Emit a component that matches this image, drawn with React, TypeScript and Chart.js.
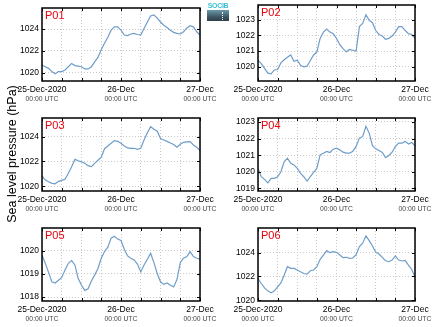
import React, { useEffect, useRef } from 'react';
import { Chart, registerables } from 'chart.js';
Chart.register(...registerables);

// ---- data ----
const xGridHours = [0, 6, 12, 18, 24, 30, 36, 42, 48];
const xLabelHours = [0, 24, 48];
const xDateLabels = ['25-Dec-2020', '26-Dec', '27-Dec'];
const xTimeLabels = ['00:00 UTC', '00:00 UTC', '00:00 UTC'];
const yTitle = 'Sea level pressure (hPa)';
const logoText = 'SOCIB';

const p01 = [1020.7, 1020.55, 1020.4, 1020.1, 1019.9, 1020.1, 1020.1, 1020.25, 1020.55, 1020.85, 1020.65, 1020.6, 1020.55, 1020.35, 1020.35, 1020.55, 1021.0, 1021.4, 1022.1, 1022.7, 1023.25, 1023.9, 1024.2, 1024.2, 1023.9, 1023.45, 1023.4, 1023.55, 1023.6, 1023.5, 1023.45, 1024.05, 1024.65, 1025.2, 1025.3, 1025.0, 1024.65, 1024.35, 1024.15, 1023.9, 1023.7, 1023.6, 1023.55, 1023.75, 1024.1, 1024.3, 1024.2, 1023.75, 1023.45];
const p02 = [1020.42, 1020.2, 1019.9, 1019.6, 1019.55, 1019.8, 1019.83, 1020.25, 1020.45, 1020.6, 1020.75, 1020.35, 1020.42, 1020.1, 1020.0, 1020.04, 1020.4, 1020.75, 1020.95, 1021.8, 1022.2, 1022.4, 1022.2, 1022.1, 1021.8, 1021.4, 1021.15, 1020.95, 1021.1, 1021.05, 1021.0, 1022.55, 1022.75, 1023.3, 1022.95, 1022.8, 1022.3, 1022.05, 1021.95, 1021.75, 1021.8, 1021.95, 1022.2, 1022.55, 1022.55, 1022.3, 1022.1, 1022.05, 1021.8];
const p03 = [1020.83, 1020.5, 1020.37, 1020.24, 1020.2, 1020.4, 1020.48, 1020.56, 1021.05, 1021.58, 1022.17, 1022.06, 1021.97, 1021.85, 1021.66, 1021.58, 1021.85, 1022.1, 1022.35, 1023.03, 1023.25, 1023.46, 1023.68, 1023.62, 1023.46, 1023.25, 1023.09, 1023.06, 1023.06, 1022.98, 1023.06, 1023.73, 1024.32, 1024.8, 1024.59, 1024.43, 1023.84, 1023.73, 1023.62, 1023.49, 1023.36, 1023.14, 1023.39, 1023.54, 1023.57, 1023.6, 1023.33, 1023.14, 1022.87];
const p04 = [1020.21, 1019.7, 1019.54, 1019.33, 1019.6, 1019.6, 1019.7, 1020.0, 1020.6, 1020.82, 1020.51, 1020.41, 1020.21, 1019.9, 1019.7, 1019.44, 1019.7, 1019.96, 1020.21, 1021.02, 1021.12, 1021.22, 1021.16, 1021.36, 1021.42, 1021.32, 1021.18, 1021.12, 1021.12, 1021.24, 1021.53, 1022.03, 1022.13, 1022.74, 1022.33, 1021.57, 1021.38, 1021.28, 1021.16, 1020.85, 1020.98, 1021.18, 1021.53, 1021.73, 1021.73, 1021.83, 1021.67, 1021.77, 1021.57];
const p05 = [1019.82, 1019.46, 1019.07, 1018.66, 1018.61, 1018.73, 1018.85, 1019.17, 1019.46, 1019.58, 1019.39, 1018.8, 1018.51, 1018.29, 1018.36, 1018.7, 1018.95, 1019.24, 1019.68, 1019.97, 1020.16, 1020.55, 1020.63, 1020.51, 1020.45, 1020.07, 1019.78, 1019.68, 1019.61, 1019.43, 1019.09, 1019.39, 1019.64, 1019.9, 1019.49, 1019.02, 1018.66, 1018.55, 1018.61, 1018.51, 1018.44, 1018.76, 1019.49, 1019.68, 1019.75, 1019.97, 1019.75, 1019.68, 1019.64];
const p06 = [1021.83, 1021.41, 1021.04, 1020.79, 1020.62, 1020.79, 1021.13, 1021.46, 1022.11, 1022.82, 1022.68, 1022.68, 1022.54, 1022.39, 1022.25, 1022.2, 1022.48, 1022.54, 1022.82, 1023.44, 1023.8, 1024.17, 1024.0, 1024.08, 1024.03, 1023.8, 1023.58, 1023.61, 1023.52, 1023.55, 1023.83, 1024.51, 1024.79, 1025.41, 1025.01, 1024.56, 1024.03, 1023.89, 1023.61, 1023.32, 1023.24, 1023.38, 1023.72, 1023.38, 1023.3, 1023.35, 1022.96, 1022.59, 1021.97];

const p01Ticks = [1020, 1022, 1024];
const p02Ticks = [1020, 1021, 1022, 1023];
const p03Ticks = [1020, 1022, 1024];
const p04Ticks = [1019, 1020, 1021, 1022, 1023];
const p05Ticks = [1018, 1019, 1020];
const p06Ticks = [1020, 1022, 1024];

const p01Range = [1019.24, 1025.93];
const p02Range = [1019.1, 1023.92];
const p03Range = [1019.62, 1025.5];
const p04Range = [1018.84, 1023.24];
const p05Range = [1017.83, 1020.99];
const p06Range = [1019.94, 1026.07];

const panelNames = ['P01', 'P02', 'P03', 'P04', 'P05', 'P06'];
const panelSeries = [p01, p02, p03, p04, p05, p06];
const panelTicks = [p01Ticks, p02Ticks, p03Ticks, p04Ticks, p05Ticks, p06Ticks];
const panelRanges = [p01Range, p02Range, p03Range, p04Range, p05Range, p06Range];
const stepHours = 1;

// ---- layout (page pixels) ----
const FONT = '"Liberation Sans", Arial, Helvetica, sans-serif';
const colCanvas = [{ x: 0, w: 218 }, { x: 216, w: 218 }];
const colPlot = [{ l: 42, r: 200 }, { l: 258, r: 415 }];
const rowCanvas = [{ y: 0, h: 108 }, { y: 108, h: 110 }, { y: 218, h: 109 }];
const rowPlot = [{ t: [8, 5], b: 81 }, { t: [118, 118], b: 191 }, { t: [228, 228], b: 301 }];

const LINE_COLOR = '#6e9dc9';
const GRID_COLOR = '#cacaca';

function Panel({ idx }: { idx: number }) {
  const ref = useRef<HTMLCanvasElement | null>(null);
  const col = idx % 2;
  const row = Math.floor(idx / 2);
  const cc = colCanvas[col];
  const rc = rowCanvas[row];
  const cp = colPlot[col];
  const rp = rowPlot[row];
  const padTop = rp.t[col] - rc.y;
  const padRight = cc.x + cc.w - cp.r;
  const yAxisW = cp.l - cc.x;
  const xAxisH = rc.y + rc.h - rp.b;

  useEffect(() => {
    const canvas = ref.current;
    if (!canvas) return;
    const values = panelSeries[idx];
    const yTicks = panelTicks[idx];
    const range = panelRanges[idx];
    const name = panelNames[idx];

    const framePlugin = {
      id: 'frame' + idx,
      afterDraw(chart: any) {
        const { ctx, chartArea: a, scales } = chart;
        const xs = scales.x;
        const ys = scales.y;
        ctx.save();
        // inward tick marks
        ctx.strokeStyle = '#000';
        ctx.lineWidth = 1;
        ctx.beginPath();
        for (const h of xGridHours) {
          const px = Math.round(xs.getPixelForValue(h)) + 0.5;
          ctx.moveTo(px, a.bottom);
          ctx.lineTo(px, a.bottom - 3);
          ctx.moveTo(px, a.top);
          ctx.lineTo(px, a.top + 3);
        }
        for (const v of yTicks) {
          const py = Math.round(ys.getPixelForValue(v)) + 0.5;
          ctx.moveTo(a.left, py);
          ctx.lineTo(a.left + 3, py);
          ctx.moveTo(a.right, py);
          ctx.lineTo(a.right - 3, py);
        }
        ctx.stroke();
        // frame
        ctx.lineWidth = 1.5;
        ctx.strokeRect(a.left, a.top, a.right - a.left, a.bottom - a.top);
        // x labels
        ctx.textAlign = 'center';
        ctx.textBaseline = 'alphabetic';
        xLabelHours.forEach((h, i) => {
          const px = xs.getPixelForValue(h);
          ctx.font = `8.5px ${FONT}`;
          ctx.fillStyle = '#000';
          ctx.fillText(xDateLabels[i], px, a.bottom + 11.3);
          ctx.font = `6.8px ${FONT}`;
          ctx.fillStyle = '#444';
          ctx.fillText(xTimeLabels[i], px, a.bottom + 20.2);
        });
        // panel name
        ctx.font = `11px ${FONT}`;
        ctx.fillStyle = '#e8000b';
        ctx.textAlign = 'left';
        ctx.fillText(name, a.left + 3, a.top + 11.3);
        ctx.restore();
      },
    };

    const chart = new Chart(canvas, {
      type: 'line',
      data: {
        datasets: [
          {
            data: values.map((v, i) => ({ x: i * stepHours, y: v })),
            borderColor: LINE_COLOR,
            borderWidth: 1.2,
            pointRadius: 0,
            tension: 0,
            fill: false,
          },
        ],
      },
      options: {
        animation: false,
        responsive: false,
        maintainAspectRatio: false,
        events: [],
        layout: { padding: { top: padTop, right: padRight, left: 0, bottom: 0 } },
        plugins: {
          legend: { display: false },
          tooltip: { enabled: false },
          title: { display: false },
        },
        scales: {
          x: {
            type: 'linear',
            min: xGridHours[0],
            max: xGridHours[xGridHours.length - 1],
            afterBuildTicks: (s: any) => {
              s.ticks = xGridHours.map((v) => ({ value: v }));
            },
            afterFit: (s: any) => {
              s.height = xAxisH;
              s.paddingLeft = 0;
              s.paddingRight = 0;
            },
            ticks: { display: false },
            grid: { color: GRID_COLOR, drawTicks: false, lineWidth: 1 },
            border: { display: false, dash: [1, 2] },
          },
          y: {
            type: 'linear',
            min: range[0],
            max: range[1],
            afterBuildTicks: (s: any) => {
              s.ticks = yTicks.map((v) => ({ value: v }));
            },
            afterFit: (s: any) => {
              s.width = yAxisW;
              s.paddingTop = 0;
              s.paddingBottom = 0;
            },
            ticks: {
              callback: (v: any) => String(v),
              font: { family: FONT, size: 8.5 },
              color: '#000',
              padding: 3,
            },
            grid: { color: GRID_COLOR, drawTicks: false, lineWidth: 1 },
            border: { display: false, dash: [1, 2] },
          },
        },
      },
      plugins: [framePlugin],
    } as any);
    return () => chart.destroy();
  }, [idx]);

  return (
    <canvas
      ref={ref}
      width={cc.w}
      height={rc.h}
      style={{ position: 'absolute', left: cc.x, top: rc.y, width: cc.w, height: rc.h }}
    />
  );
}

export default function App() {
  return (
    <div style={{ position: 'absolute', left: 0, top: 0, width: 434, height: 327, background: '#fff', overflow: 'hidden' }}>
      {panelNames.map((_, i) => (
        <Panel key={i} idx={i} />
      ))}
      <div
        style={{
          position: 'absolute',
          left: 11.5 - 100,
          top: 154 - 8,
          width: 200,
          height: 16,
          lineHeight: '16px',
          textAlign: 'center',
          fontFamily: FONT,
          fontSize: 12.5,
          color: '#000',
          transform: 'rotate(-90deg)',
          whiteSpace: 'nowrap',
        }}
      >
        {yTitle}
      </div>
      <div style={{ position: 'absolute', left: 207, top: 2, width: 22, height: 19 }}>
        <div
          style={{
            fontFamily: FONT,
            fontSize: 7,
            fontWeight: 'bold',
            lineHeight: '7px',
            color: '#3cc3d6',
            textAlign: 'center',
            letterSpacing: -0.3,
          }}
        >
          {logoText}
        </div>
        <div
          style={{
            marginTop: 1,
            height: 11,
            background: 'linear-gradient(#6a9aa8, #3e5866 60%, #2e3e48)',
            position: 'relative',
          }}
        >
          <div style={{ position: 'absolute', left: 15, top: 2, width: 0, height: 8, borderLeft: '1px dotted #fff' }} />
        </div>
      </div>
    </div>
  );
}
